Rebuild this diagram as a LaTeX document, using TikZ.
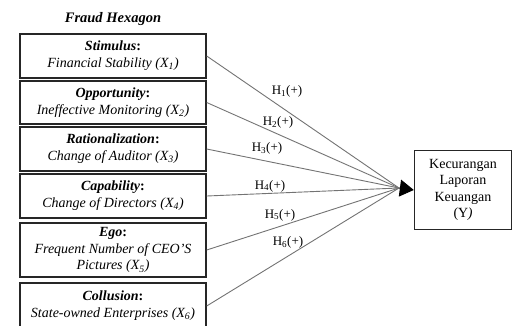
\documentclass[tikz,border=0pt]{standalone}
\usepackage{fontspec}
\setmainfont{Liberation Serif}
\usetikzlibrary{arrows.meta}
\begin{document}
\begin{tikzpicture}[x=1pt,y=-1pt,
  fbox/.style={draw=black!85,line width=1.4pt,minimum width=186pt,inner sep=0pt,align=center,
    font=\fontsize{14}{16.8}\selectfont\itshape},
  link/.style={draw=black!55,line width=0.9pt},
  hlab/.style={font=\fontsize{13}{14}\selectfont,inner sep=0pt},
  ybox/.style={draw=black!85,line width=1.4pt,minimum width=97pt,minimum height=79pt,align=center,inner sep=0pt,
    font=\fontsize{14}{16.3}\selectfont}]
\useasboundingbox (0,0) rectangle (514,325);
\clip (0,0) rectangle (514,325);
\node[font=\fontsize{14.5}{16}\selectfont\bfseries\itshape,inner sep=0pt] (title) at (113,19) {Fraud Hexagon};
\node[fbox,minimum height=44pt] (b1) at (113,56) {\textbf{Stimulus}\textup{\textbf{:}}\\Financial Stability (X\textsubscript{1})};
\node[fbox,minimum height=43pt] (b2) at (113,102.5) {\textbf{Opportunity}\textup{\textbf{:}}\\Ineffective Monitoring (X\textsubscript{2})};
\node[fbox,minimum height=44pt] (b3) at (113,149) {\textbf{Rationalization}\textup{\textbf{:}}\\Change of Auditor (X\textsubscript{3})};
\node[fbox,minimum height=44pt] (b4) at (113,196) {\textbf{Capability}\textup{\textbf{:}}\\Change of Directors (X\textsubscript{4})};
\node[fbox,minimum height=54pt] (b5) at (113,250) {\textbf{Ego}\textup{\textbf{:}}\\Frequent Number of CEO’S\\Pictures (X\textsubscript{5})};
\node[fbox,minimum height=46pt] (b6) at (113,306) {\textbf{Collusion}\textup{\textbf{:}}\\State-owned Enterprises (X\textsubscript{6})};
\node[ybox] (y) at (463,190) {Kecurangan\\Laporan\\Keuangan\\(Y\kern-0.5pt\textit{)}};
\coordinate (c) at (399,188);
\draw[link] (b1.east) -- (c);
\draw[link] (b2.east) -- (c);
\draw[link] (b3.east) -- (c);
\draw[link] (b4.east) -- (c);
\draw[link] (b5.east) -- (c);
\draw[link] (b6.east) -- (c);
\draw[draw=black,line width=0.9pt,-{Triangle[length=14pt,width=17pt]}] (c) -- (y.west);
\node[hlab] (h1) at (287,91) {H\textsubscript{1}(+)};
\node[hlab] (h2) at (278,122) {H\textsubscript{2}(+)};
\node[hlab] (h3) at (267,148) {H\textsubscript{3}(+)};
\node[hlab] (h4) at (270,186) {H\textsubscript{4}(+)};
\node[hlab] (h5) at (280,215) {H\textsubscript{5}(+)};
\node[hlab] (h6) at (288,242) {H\textsubscript{6}(+)};
\end{tikzpicture}
\end{document}
